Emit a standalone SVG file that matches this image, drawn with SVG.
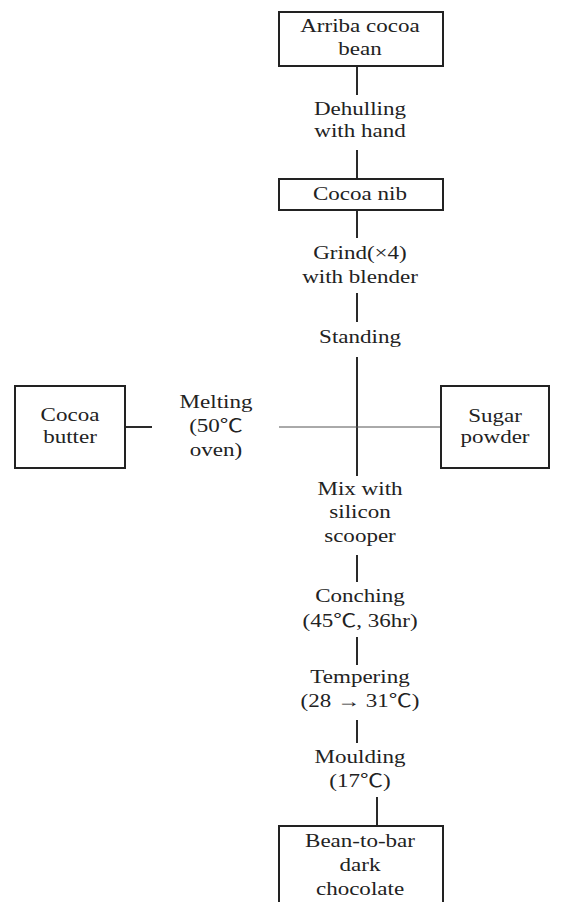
<svg xmlns="http://www.w3.org/2000/svg" width="563" height="902" viewBox="0 0 563 902">
<style>
  .box { fill: #fff; stroke: #222; stroke-width: 2; }
  .ln { stroke: #2a2a2a; stroke-width: 2; fill: none; }
  .thin { stroke: #555; stroke-width: 1; fill: none; }
  text { font-family: "Liberation Serif", "Noto Sans CJK KR", serif; font-size: 18px; fill: #222; text-anchor: middle; }
</style>
<rect width="563" height="902" fill="#fff"/>
<g id="connectors">
  <line class="ln" x1="357" y1="66" x2="357" y2="95"/>
  <line class="ln" x1="357" y1="150" x2="357" y2="179"/>
  <line class="ln" x1="357" y1="210" x2="357" y2="238"/>
  <line class="ln" x1="357" y1="293" x2="357" y2="322"/>
  <line class="ln" x1="357" y1="357" x2="357" y2="476"/>
  <line class="ln" x1="125" y1="427" x2="152" y2="427"/>
  <line class="thin" x1="279" y1="427" x2="441" y2="427"/>
  <line class="ln" x1="357" y1="555" x2="357" y2="582"/>
  <line class="ln" x1="357" y1="637" x2="357" y2="665"/>
  <line class="ln" x1="357" y1="720" x2="357" y2="743"/>
  <line class="ln" x1="377" y1="797" x2="377" y2="826"/>
</g>
<g id="n-arriba">
  <rect class="box" x="279" y="12" width="164" height="54"/>
  <text transform="translate(360,32) scale(1.28,1)">Arriba cocoa</text>
  <text transform="translate(360,55) scale(1.28,1)">bean</text>
</g>
<g id="s-dehulling">
  <text transform="translate(360,115) scale(1.28,1)">Dehulling</text>
  <text transform="translate(360,137) scale(1.28,1)">with hand</text>
</g>
<g id="n-nib">
  <rect class="box" x="279" y="179" width="164" height="31"/>
  <text transform="translate(360,200) scale(1.28,1)">Cocoa nib</text>
</g>
<g id="s-grind">
  <text transform="translate(360,259) scale(1.28,1)">Grind(×4)</text>
  <text transform="translate(360,283) scale(1.28,1)">with blender</text>
</g>
<g id="s-standing">
  <text transform="translate(360,343) scale(1.28,1)">Standing</text>
</g>
<g id="n-butter">
  <rect class="box" x="15" y="386" width="110" height="82"/>
  <text transform="translate(70,421) scale(1.28,1)">Cocoa</text>
  <text transform="translate(70,443) scale(1.28,1)">butter</text>
</g>
<g id="s-melting">
  <text transform="translate(216,408) scale(1.28,1)">Melting</text>
  <text transform="translate(216,432) scale(1.28,1)">(50℃</text>
  <text transform="translate(216,456) scale(1.28,1)">oven)</text>
</g>
<g id="n-sugar">
  <rect class="box" x="441" y="386" width="108" height="82"/>
  <text transform="translate(495,422) scale(1.28,1)">Sugar</text>
  <text transform="translate(495,443) scale(1.28,1)">powder</text>
</g>
<g id="s-mix">
  <text transform="translate(360,495) scale(1.28,1)">Mix with</text>
  <text transform="translate(360,518) scale(1.28,1)">silicon</text>
  <text transform="translate(360,542) scale(1.28,1)">scooper</text>
</g>
<g id="s-conching">
  <text transform="translate(360,602) scale(1.28,1)">Conching</text>
  <text transform="translate(360,627) scale(1.28,1)">(45℃, 36hr)</text>
</g>
<g id="s-tempering">
  <text transform="translate(360,683) scale(1.28,1)">Tempering</text>
  <text transform="translate(360,707) scale(1.28,1)">(28 → 31℃)</text>
</g>
<g id="s-moulding">
  <text transform="translate(360,763) scale(1.28,1)">Moulding</text>
  <text transform="translate(360,787) scale(1.28,1)">(17℃)</text>
</g>
<g id="n-chocolate">
  <rect class="box" x="279" y="826" width="164" height="90"/>
  <text transform="translate(360,847) scale(1.28,1)">Bean-to-bar</text>
  <text transform="translate(360,871) scale(1.28,1)">dark</text>
  <text transform="translate(360,895) scale(1.28,1)">chocolate</text>
</g>
</svg>
